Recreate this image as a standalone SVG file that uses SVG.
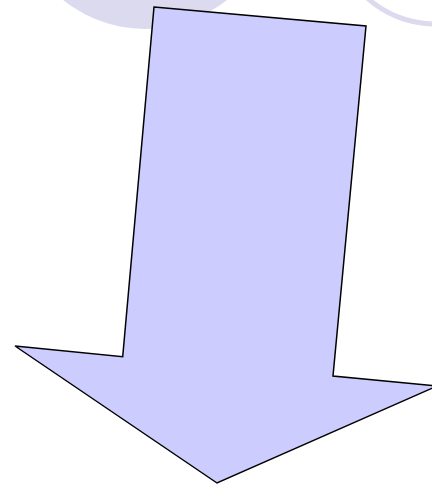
<svg xmlns="http://www.w3.org/2000/svg" width="432" height="485" viewBox="0 0 432 485">
  <style>
    .bg { fill: #dcdaee; }
    .ring { fill: none; stroke: #dcdaee; stroke-width: 5; }
    .arrow { fill: #ccccff; stroke: #000000; stroke-width: 1.5; stroke-linejoin: miter; }
  </style>
  <rect width="432" height="485" fill="#ffffff"/>
  <g id="background">
    <circle class="bg" cx="145" cy="-101" r="130"/>
    <circle class="ring" cx="435" cy="-77" r="101"/>
  </g>
  <g id="arrow">
    <polygon class="arrow" points="154,7 366,26 333,376 437,386 217,483 15,346 122.7,356.7"/>
  </g>
</svg>
